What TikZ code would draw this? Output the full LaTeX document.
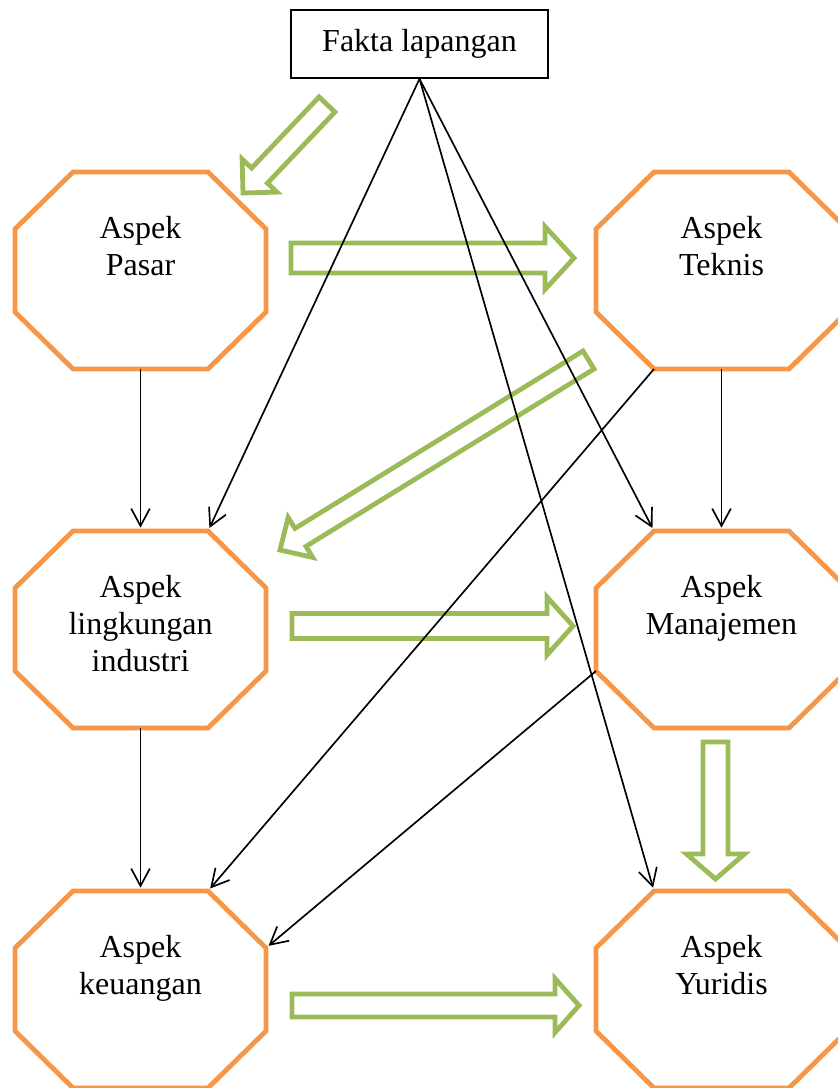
\documentclass[tikz,border=0pt]{standalone}
\usepackage{fontspec}
\setmainfont{Liberation Serif}
\usetikzlibrary{arrows.meta,calc}
\definecolor{octorange}{HTML}{F79646}
\definecolor{arrgreen}{HTML}{9BBB59}
\tikzset{
  octa/.style={draw=octorange, line width=3.6pt, line join=miter},
  lbl/.style={font=\fontsize{24}{27.75}\selectfont, align=center, inner sep=0pt, anchor=north},
  conn/.style={draw=black, line width=1.25pt, -{Straight Barb[length=13pt,width=14pt]}, shorten >=2.5pt},
  blockarrow/.style={draw=arrgreen, line width=3.6pt, line join=miter},
  factbox/.style={draw=black, line width=1.3pt, minimum width=192.75pt, minimum height=51pt, inner sep=0pt, font=\fontsize{24}{27.75}\selectfont},
}
\newcommand\octagonbox[4]{%
  \coordinate (#1-tl) at (#2+58,#3);
  \coordinate (#1-tr) at (#2+193,#3);
  \coordinate (#1-rt) at (#2+251,#3+57);
  \coordinate (#1-rb) at (#2+251,#3+140);
  \coordinate (#1-br) at (#2+193,#3+197);
  \coordinate (#1-bl) at (#2+58,#3+197);
  \coordinate (#1-lb) at (#2,#3+140);
  \coordinate (#1-lt) at (#2,#3+57);
  \coordinate (#1-n) at (#2+125.5,#3);
  \coordinate (#1-s) at (#2+125.5,#3+197);
  \draw[octa] (#1-tl) -- (#1-tr) -- (#1-rt) -- (#1-rb) -- (#1-br) -- (#1-bl) -- (#1-lb) -- (#1-lt) -- cycle;
  \node[lbl] (#1) at (#2+125.5,#3+44) {#4};
}
% name, tail, tip, shaft half width, head half width, head length
\newcommand\greenarrow[6]{%
  \coordinate (#1-tail) at #2;
  \coordinate (#1-tip) at #3;
  \coordinate (#1-h) at ($(#1-tip)!#6!(#1-tail)$);
  \draw[blockarrow]
    ($(#1-tail)!#4!90:(#1-tip)$) --
    ($(#1-h)!#4!90:(#1-tip)$) --
    ($(#1-h)!#5!90:(#1-tip)$) --
    (#1-tip) --
    ($(#1-h)!#5!-90:(#1-tip)$) --
    ($(#1-h)!#4!-90:(#1-tip)$) --
    ($(#1-tail)!#4!-90:(#1-tip)$) -- cycle;
}
\begin{document}
\begin{tikzpicture}[x=0.75pt,y=-0.75pt]
\useasboundingbox (0,0) rectangle (838,1088);
\begin{scope}
\clip (0,0) rectangle (838,1088);
\octagonbox{pas}{15}{172}{Aspek\\Pasar}
\octagonbox{tek}{596}{172}{Aspek\\Teknis}
\octagonbox{lin}{15}{531}{Aspek\\lingkungan\\industri}
\octagonbox{man}{596}{531}{Aspek\\Manajemen}
\octagonbox{keu}{15}{891}{Aspek\\keuangan}
\octagonbox{yur}{596}{891}{Aspek\\Yuridis}
\node[factbox] (fakta) at (419.5,44) {Fakta lapangan};

\greenarrow{ga}{(327,104.5)}{(243,193)}{8.2pt}{18pt}{18pt}
\greenarrow{gb}{(291,258)}{(574,258)}{11.25pt}{23.6pt}{21.75pt}
\greenarrow{gc}{(588.5,360)}{(280,550)}{7.9pt}{17.6pt}{18pt}
\greenarrow{gd}{(292,626)}{(573,626)}{9.4pt}{21.75pt}{19.5pt}
\greenarrow{ge}{(715.5,742)}{(715.5,879)}{9.4pt}{21.75pt}{18.75pt}
\greenarrow{gf}{(292,1005.5)}{(579,1005.5)}{8.6pt}{20.25pt}{18pt}

\draw[conn] (fakta.south) -- (lin-tr);
\draw[conn] (fakta.south) -- (man-tl);
\draw[conn] (fakta.south) -- (yur-tl);
\draw[conn] (pas-s) -- (lin-n);
\draw[conn] (tek-s) -- (man-n);
\draw[conn] (tek-bl) -- (keu-tr);
\draw[conn] (man-lb) -- (keu-rt);
\draw[conn] (lin-s) -- (keu-n);
\end{scope}
\end{tikzpicture}
\end{document}
